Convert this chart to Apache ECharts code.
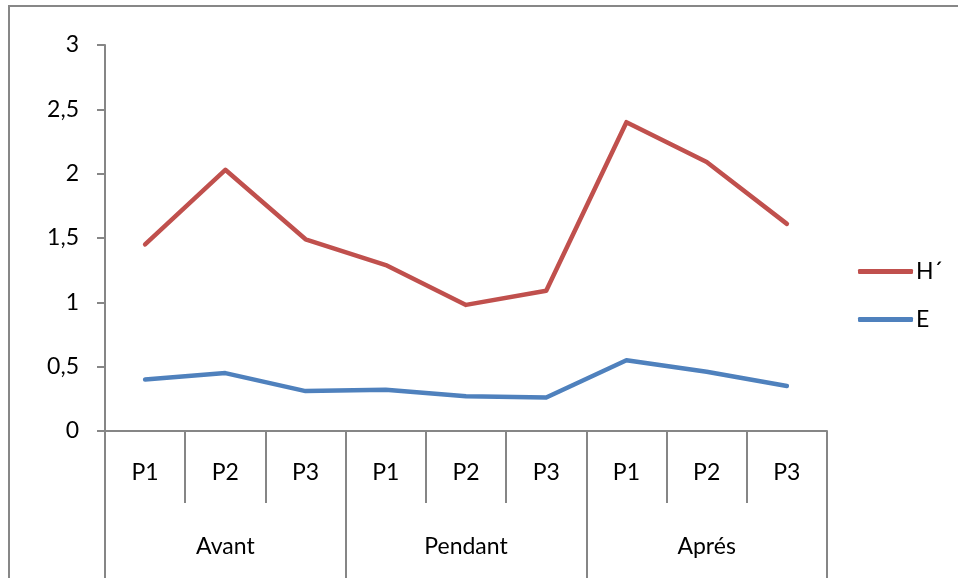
<!DOCTYPE html>
<html>
<head>
<meta charset="utf-8">
<script src="https://cdn.jsdelivr.net/npm/echarts@6/dist/echarts.min.js"></script>
<style>
html,body{margin:0;padding:0;background:#fff;}
#wrap{position:relative;width:958px;height:578px;overflow:hidden;}
#chart{position:absolute;left:0;top:0;width:958px;height:578px;}
#frame{position:absolute;left:8px;top:5px;width:1000px;height:700px;border-left:2px solid #878787;border-top:2px solid #878787;pointer-events:none;}
</style>
</head>
<body>
<div id="wrap"><div id="chart"></div><div id="frame"></div></div>
<script>
const periods = ["P1","P2","P3","P1","P2","P3","P1","P2","P3"];
const phases = ["Avant","Pendant","Aprés"];
const hValues = [1.45, 2.03, 1.49, 1.29, 0.98, 1.09, 2.40, 2.09, 1.61];
const eValues = [0.40, 0.45, 0.31, 0.32, 0.27, 0.26, 0.55, 0.46, 0.35];
const seriesNames = ["H´", "E"];

const FONT = "Lato, 'Liberation Sans', sans-serif";
const FS = 23;
const AX = "#868686";
const chart = echarts.init(document.getElementById('chart'), null, {renderer:'canvas'});
chart.setOption({
  animation:false,
  backgroundColor:'#fff',
  textStyle:{fontFamily:FONT},
  grid:{left:105, right:131, top:45, bottom:147, containLabel:false},
  legend:{
    orient:'vertical', left:858, top:260, padding:0, itemWidth:55, itemHeight:5, itemGap:25,
    icon:'roundRect',
    data:seriesNames,
    textStyle:{fontFamily:FONT, fontSize:FS, color:'#000', padding:[0,0,0,-2]}
  },
  xAxis:[{
    type:'category', data:periods, boundaryGap:true, position:'bottom',
    axisLine:{show:true, lineStyle:{color:AX, width:2}},
    axisTick:{show:true, interval:0, length:72, lineStyle:{color:AX, width:2}},
    axisLabel:{interval:0, margin:30, fontFamily:FONT, fontSize:FS, color:'#000'}
  },{
    type:'category', data:phases, boundaryGap:true, position:'bottom', offset:72,
    axisLine:{show:false},
    axisTick:{show:true, interval:0, length:80, lineStyle:{color:AX, width:2}},
    axisLabel:{interval:0, margin:32, fontFamily:FONT, fontSize:FS, color:'#000'}
  }],
  yAxis:{
    type:'value', min:0, max:3, interval:0.5,
    axisLine:{show:true, lineStyle:{color:AX, width:2}},
    axisTick:{show:true, length:8, lineStyle:{color:AX, width:2}},
    splitLine:{show:false},
    axisLabel:{margin:26, fontFamily:FONT, fontSize:FS, color:'#000',
      formatter:v => String(v).replace('.', ',')}
  },
  series:[{
    name:seriesNames[0], type:'line', data:hValues, symbol:'none',
    lineStyle:{color:'#C0504D', width:4.5, cap:'round', join:'round'},
    itemStyle:{color:'#C0504D'}
  },{
    name:seriesNames[1], type:'line', data:eValues, symbol:'none',
    lineStyle:{color:'#4F81BD', width:4.5, cap:'round', join:'round'},
    itemStyle:{color:'#4F81BD'}
  }]
});
</script>
</body>
</html>
